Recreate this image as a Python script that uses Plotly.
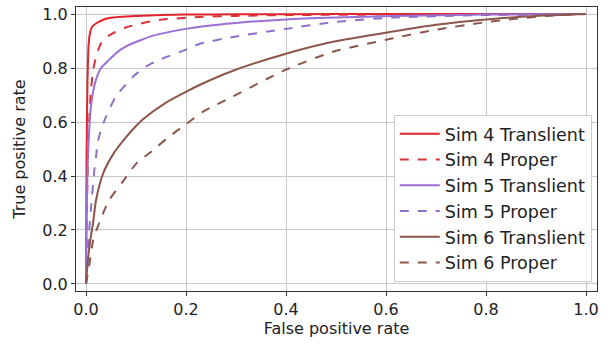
import plotly.graph_objects as go

# ---- data ----
names = ["Sim 4 Translient", "Sim 4 Proper", "Sim 5 Translient",
         "Sim 5 Proper", "Sim 6 Translient", "Sim 6 Proper"]

s4t_x = [0.0, 0.001, 0.003, 0.005, 0.008, 0.012, 0.02, 0.03, 0.046, 0.07, 0.1, 0.15, 0.2, 0.3, 0.5, 0.7, 1.0]
s4t_y = [0.0, 0.45, 0.75, 0.88, 0.93, 0.952, 0.965, 0.975, 0.985, 0.99, 0.993, 0.996, 0.998, 0.999, 1.0, 1.0, 1.0]

s4p_x = [0.0, 0.002, 0.005, 0.01, 0.015, 0.02, 0.026, 0.034, 0.05, 0.08, 0.11, 0.146, 0.226, 0.3, 0.4, 0.6, 0.8, 1.0]
s4p_y = [0.0, 0.3, 0.55, 0.72, 0.8, 0.84, 0.875, 0.904, 0.925, 0.95, 0.965, 0.978, 0.989, 0.993, 0.996, 0.998, 0.999, 1.0]

s5t_x = [0.0, 0.001, 0.003, 0.006, 0.01, 0.015, 0.02, 0.03, 0.046, 0.06, 0.08, 0.105, 0.134, 0.2, 0.236, 0.3, 0.4, 0.5, 0.614, 0.8, 1.0]
s5t_y = [0.0, 0.2, 0.42, 0.56, 0.66, 0.72, 0.757, 0.8, 0.83, 0.855, 0.88, 0.9, 0.92, 0.945, 0.955, 0.967, 0.98, 0.987, 0.993, 0.998, 1.0]

s5p_x = [0.0, 0.003, 0.006, 0.01, 0.016, 0.02, 0.024, 0.03, 0.04, 0.06, 0.094, 0.12, 0.146, 0.2, 0.228, 0.294, 0.4, 0.494, 0.614, 0.8, 1.0]
s5p_y = [0.0, 0.1, 0.19, 0.28, 0.41, 0.47, 0.53, 0.57, 0.62, 0.695, 0.768, 0.805, 0.83, 0.868, 0.89, 0.915, 0.945, 0.97, 0.987, 0.996, 1.0]

s6t_x = [0.0, 0.002, 0.006, 0.01, 0.014, 0.02, 0.034, 0.054, 0.074, 0.1, 0.114, 0.16, 0.2, 0.228, 0.294, 0.4, 0.494, 0.614, 0.7, 0.8, 0.9, 1.0]
s6t_y = [0.0, 0.05, 0.125, 0.18, 0.224, 0.31, 0.408, 0.48, 0.53, 0.585, 0.61, 0.672, 0.712, 0.738, 0.79, 0.853, 0.897, 0.935, 0.96, 0.98, 0.993, 1.0]

s6p_x = [0.0, 0.002, 0.006, 0.014, 0.026, 0.046, 0.074, 0.1, 0.14, 0.16, 0.2, 0.236, 0.294, 0.4, 0.494, 0.614, 0.694, 0.8, 0.92, 1.0]
s6p_y = [0.0, 0.02, 0.063, 0.16, 0.224, 0.31, 0.38, 0.445, 0.504, 0.537, 0.592, 0.64, 0.695, 0.794, 0.86, 0.91, 0.94, 0.97, 0.993, 1.0]

xs = [s4t_x, s4p_x, s5t_x, s5p_x, s6t_x, s6p_x]
ys = [s4t_y, s4p_y, s5t_y, s5p_y, s6t_y, s6p_y]

colors = ["#e0242a", "#d9333a", "#9a6fd6", "#8f70c8", "#8c564b", "#8c564b"]
dashes = ["solid", "dash", "solid", "dash", "solid", "dash"]

x_ticks = [0.0, 0.2, 0.4, 0.6, 0.8, 1.0]
y_ticks = [0.0, 0.2, 0.4, 0.6, 0.8, 1.0]

fig = go.Figure()
for i in range(len(names)):
    fig.add_trace(go.Scatter(
        x=xs[i], y=ys[i], mode="lines", name=names[i],
        legendgroup="g%d" % i,
        line=dict(color=colors[i], width=2, dash=dashes[i], shape="spline", smoothing=0.6),
    ))

font_family = "DejaVu Sans"
axis_common = dict(
    showline=True, linecolor="#333333", linewidth=1.2, mirror=True,
    showgrid=True, gridcolor="#c8c8c8", gridwidth=1,
    zeroline=False, ticks="outside", ticklen=4, tickcolor="#333333",
    tickfont=dict(family=font_family, size=16, color="#222222"),
)

fig.update_layout(
    width=613, height=344,
    margin=dict(l=76, r=16, t=5, b=53),
    paper_bgcolor="white", plot_bgcolor="white",
    font=dict(family=font_family, size=16, color="#222222"),
    xaxis=dict(range=[-0.02, 1.022], tickvals=x_ticks, ticktext=["%.1f" % v for v in x_ticks],
               title=dict(text="False positive rate", font=dict(size=16), standoff=4), **axis_common),
    yaxis=dict(range=[-0.026, 1.026], tickvals=y_ticks, ticktext=["%.1f" % v for v in y_ticks],
               title=dict(text="True positive rate", font=dict(size=16), standoff=12), **axis_common),
    legend=dict(
        x=0.99, y=0.032, xanchor="right", yanchor="bottom",
        bgcolor="rgba(255,255,255,0.9)", bordercolor="#cccccc", borderwidth=1,
        font=dict(family=font_family, size=17.5, color="#222222"),
        tracegroupgap=0, itemwidth=40,
    ),
    showlegend=True,
)

fig.write_html("out.html")
